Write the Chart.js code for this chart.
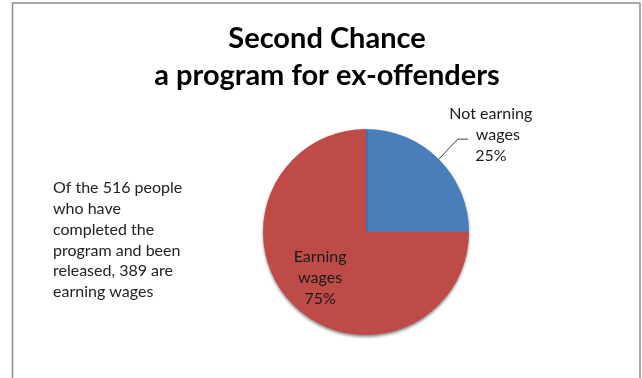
<!DOCTYPE html>
<html lang="en">
<head>
  <meta charset="UTF-8" />
  <title>Second Chance</title>
  <script src="https://cdn.jsdelivr.net/npm/chart.js"></script>
  <style>
    html, body { margin: 0; padding: 0; background: #fff; }
    #wrap { width: 642px; height: 378px; }
  </style>
</head>
<body>
  <div id="wrap"><canvas id="pie" width="642" height="378"></canvas></div>

  <script>
    const labels = ["Not earning wages", "Earning wages"];
    const labelLines = [["Not earning", "wages"], ["Earning", "wages"]];
    const shares = [25, 75];
    const colors = ["#4a7ebb", "#be4b48"];
    const titleLines = ["Second Chance", "a program for ex-offenders"];
    const noteLines = [
      "Of the 516 people",
      "who have",
      "completed the",
      "program and been",
      "released, 389 are",
      "earning wages"
    ];

    const FONT = "Lato, 'Open Sans', sans-serif";

    // frame, title and side note
    const decor = {
      id: "decor",
      beforeDraw(chart) {
        const ctx = chart.ctx;
        ctx.save();
        ctx.strokeStyle = "#8c8c8c";
        ctx.lineWidth = 1.5;
        ctx.beginPath();
        ctx.moveTo(12.5, 378);
        ctx.lineTo(12.5, 3);
        ctx.lineTo(640, 3);
        ctx.lineTo(640, 378);
        ctx.stroke();
        ctx.restore();
      },
      afterDraw(chart) {
        const ctx = chart.ctx;
        ctx.save();
        ctx.fillStyle = "#000";
        ctx.textAlign = "center";
        ctx.textBaseline = "middle";
        ctx.font = "bold 29px " + FONT;
        titleLines.forEach((t, i) => ctx.fillText(t, 327, 39 + i * 37));

        ctx.fillStyle = "#222";
        ctx.textAlign = "left";
        ctx.font = "16px " + FONT;
        noteLines.forEach((t, i) => ctx.fillText(t, 53, 188 + i * 20.8));
        ctx.restore();
      }
    };

    // slice labels: the small slice sits outside with a leader line
    const sliceLabels = {
      id: "sliceLabels",
      afterDatasetsDraw(chart) {
        const ctx = chart.ctx;
        const arcs = chart.getDatasetMeta(0).data;
        ctx.save();
        ctx.fillStyle = "#1a1a1a";
        ctx.font = "16px " + FONT;
        ctx.textAlign = "center";
        ctx.textBaseline = "middle";
        arcs.forEach((arc, i) => {
          const p = arc.getProps(["x", "y", "startAngle", "endAngle", "outerRadius"], true);
          const mid = (p.startAngle + p.endAngle) / 2;
          const lines = labelLines[i].concat([shares[i] + "%"]);
          if (shares[i] < 50) {
            const ex = p.x + Math.cos(mid) * p.outerRadius;
            const ey = p.y + Math.sin(mid) * p.outerRadius;
            ctx.strokeStyle = "#404040";
            ctx.lineWidth = 1;
            ctx.beginPath();
            ctx.moveTo(ex, ey);
            ctx.lineTo(ex + 19, ey - 20);
            ctx.lineTo(ex + 29, ey - 20);
            ctx.stroke();
            ctx.fillText(lines[0], ex + 52, ey - 45);
            ctx.fillText(lines[1], ex + 59, ey - 24);
            ctx.fillText(lines[2], ex + 52, ey - 3);
          } else {
            const cx = p.x + Math.cos(mid) * p.outerRadius * 0.63;
            const cy = p.y + Math.sin(mid) * p.outerRadius * 0.63;
            lines.forEach((t, k) => ctx.fillText(t, cx, cy + (k - 1) * 21));
          }
        });
        ctx.restore();
      }
    };

    // soft drop shadow under the pie
    const pieShadow = {
      id: "pieShadow",
      beforeDatasetsDraw(chart) {
        const ctx = chart.ctx;
        ctx.save();
        ctx.shadowColor = "rgba(0,0,0,0.45)";
        ctx.shadowBlur = 3;
        ctx.shadowOffsetY = 2;
      },
      afterDatasetsDraw(chart) {
        chart.ctx.restore();
      }
    };

    new Chart(document.getElementById("pie"), {
      type: "pie",
      data: {
        labels: labels,
        datasets: [{
          data: shares,
          backgroundColor: colors,
          borderWidth: 0
        }]
      },
      options: {
        responsive: false,
        animation: false,
        layout: { padding: { left: 263, right: 173, top: 129, bottom: 43 } },
        plugins: {
          legend: { display: false },
          tooltip: { enabled: false }
        }
      },
      plugins: [decor, pieShadow, sliceLabels]
    });
  </script>
</body>
</html>
